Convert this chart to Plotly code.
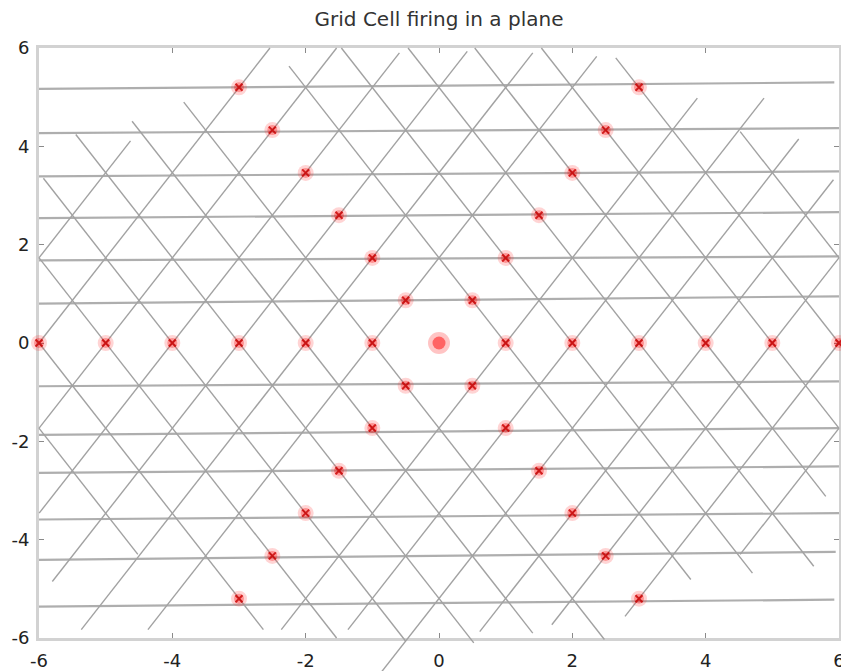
import math
import plotly.graph_objects as go

TITLE = "Grid Cell firing in a plane"
TICKS = [-6, -4, -2, 0, 2, 4, 6]
TICK_TEXT = ["-6", "-4", "-2", "0", "2", "4", "6"]

# firing fields along the three lattice axes
fire_x = [-6, -5, -4, -3, -2, -1, 1, 2, 3, 4, 5, 6,
          0.5, 1.0, 1.5, 2.0, 2.5, 3.0,
          -0.5, -1.0, -1.5, -2.0, -2.5, -3.0,
          -0.5, -1.0, -1.5, -2.0, -2.5, -3.0,
          0.5, 1.0, 1.5, 2.0, 2.5, 3.0]
fire_y = [0, 0, 0, 0, 0, 0, 0, 0, 0, 0, 0, 0,
          0.87, 1.73, 2.60, 3.46, 4.33, 5.20,
          0.87, 1.73, 2.60, 3.46, 4.33, 5.20,
          -0.87, -1.73, -2.60, -3.46, -4.33, -5.20,
          -0.87, -1.73, -2.60, -3.46, -4.33, -5.20]
origin_x = [0]
origin_y = [0]

# near-horizontal lattice lines: height at the left and right ends
flat_y_left = [5.17, 4.27, 3.39, 2.54, 1.68, 0.80, -0.88, -1.87, -2.64, -3.59, -4.41, -5.36]
flat_y_right = [5.30, 4.37, 3.49, 2.66, 1.76, 0.95, -0.78, -1.73, -2.51, -3.46, -4.25, -5.22]
flat_x_left = [-6, -6, -6, -6, -6, -6, -6, -6, -6, -6, -6, -6]
flat_x_right = [5.93, 6, 6, 6, 6, 6, 6, 6, 6, 6, 5.95, 5.93]

# rising lines x = c + y/sqrt(3): intercept c and their y extent
rise_c = [-7, -6, -5, -4, -3, -2, -1, 1, 2, 3, 4, 5, 6, 7]
rise_y0 = [1.73, 0.0, -1.73, -3.46, -4.85, -5.83, -5.83, -5.83, -5.83, -6.75, -5.87, -5.73, -5.56, -4.3]
rise_y1 = [4.11, 6.0, 6.0, 5.9, 5.93, 5.9, 5.83, 4.98, 4.98, 4.15, 3.32, 1.73, 0.0, -1.73]

# falling lines x = c - y/sqrt(3)
fall_c = [-7, -6, -5, -4, -3, -2, -1, 1, 2, 3, 4, 5, 6, 7]
fall_y0 = [-4.3, -5.83, -6.0, -6.06, -6.1, -5.9, -6.03, -4.81, -4.68, -4.54, -3.12, -1.73, 0.0, 1.73]
fall_y1 = [-1.73, 0.0, 1.73, 3.35, 4.24, 4.51, 4.9, 5.63, 6.0, 6.0, 6.0, 6.0, 5.8, 4.3]

S3 = math.sqrt(3.0)


def polyline(c_list, y0_list, y1_list, sign):
    xs, ys = [], []
    for c, a, b in zip(c_list, y0_list, y1_list):
        xs += [c + sign * a / S3, c + sign * b / S3, None]
        ys += [a, b, None]
    return xs, ys


W, H = 841, 671
PL, PR, PT, PB = 39, 839, 48, 638          # plot box in pixels
ux = (PR - PL) / 12.0
uy = (PB - PT) / 12.0
full_x = [-6 - PL / ux, 6 + (W - PR) / ux]
full_y = [-6 - (H - PB) / uy, 6 + PT / uy]

fig = go.Figure()

# flat lines live on the framed axes (they stay inside the box)
fx, fy = [], []
for xl, xr, yl, yr in zip(flat_x_left, flat_x_right, flat_y_left, flat_y_right):
    fx += [xl, xr, None]
    fy += [yl, yr, None]
fig.add_trace(go.Scatter(x=fx, y=fy, mode="lines",
                         line=dict(color="rgba(160,160,160,0.85)", width=2.2),
                         hoverinfo="skip", showlegend=False))

# slanted lines and firing fields on an unclipped overlay with the same scale
rx, ry = polyline(rise_c, rise_y0, rise_y1, 1)
fig.add_trace(go.Scatter(x=rx, y=ry, mode="lines", xaxis="x2", yaxis="y2",
                         line=dict(color="#a2a2a2", width=1.4),
                         hoverinfo="skip", showlegend=False))
gx, gy = polyline(fall_c, fall_y0, fall_y1, -1)
fig.add_trace(go.Scatter(x=gx, y=gy, mode="lines", xaxis="x2", yaxis="y2",
                         line=dict(color="#a2a2a2", width=1.4),
                         hoverinfo="skip", showlegend=False))

fig.add_trace(go.Scatter(x=fire_x, y=fire_y, mode="markers", xaxis="x2", yaxis="y2",
                         marker=dict(size=16, color="rgba(255,40,40,0.20)", line=dict(width=0)),
                         hoverinfo="skip", showlegend=False))
fig.add_trace(go.Scatter(x=fire_x, y=fire_y, mode="markers", xaxis="x2", yaxis="y2",
                         marker=dict(size=10, color="rgba(255,0,0,0.30)", line=dict(width=0)),
                         hoverinfo="skip", showlegend=False))
fig.add_trace(go.Scatter(x=fire_x, y=fire_y, mode="markers", xaxis="x2", yaxis="y2",
                         marker=dict(symbol="x-thin", size=7, line=dict(color="rgba(200,0,0,0.8)", width=2)),
                         showlegend=False))
fig.add_trace(go.Scatter(x=origin_x, y=origin_y, mode="markers", xaxis="x2", yaxis="y2",
                         marker=dict(size=22, color="rgba(255,60,60,0.30)", line=dict(width=0)),
                         hoverinfo="skip", showlegend=False))
fig.add_trace(go.Scatter(x=origin_x, y=origin_y, mode="markers", xaxis="x2", yaxis="y2",
                         marker=dict(size=13, color="rgba(255,20,20,0.55)", line=dict(width=0)),
                         showlegend=False))

tick_font = dict(family="DejaVu Sans, Liberation Sans, sans-serif", size=18, color="#222222")
axis_common = dict(
    range=[-6, 6], tickvals=TICKS, ticktext=TICK_TEXT, ticks="inside", ticklen=5,
    tickcolor="#8a8a8a", tickwidth=1, showline=True, linecolor="#d2d2d2", linewidth=3,
    mirror="ticks", showgrid=False, zeroline=False, fixedrange=True, tickfont=tick_font,
    automargin=False, ticklabeloverflow="allow",
)

fig.update_layout(
    width=W, height=H,
    margin=dict(l=0, r=0, t=0, b=0, autoexpand=False),
    paper_bgcolor="white", plot_bgcolor="rgba(0,0,0,0)",
    title=dict(text=TITLE, x=(PL + PR) / 2 / W, xanchor="center", y=1 - 19 / H,
               yanchor="middle", yref="container", automargin=False,
               font=dict(family="DejaVu Sans, Liberation Sans, sans-serif", size=20, color="#333333")),
    xaxis=dict(domain=[PL / W, PR / W], anchor="y", ticklabelstandoff=4, **axis_common),
    yaxis=dict(domain=[(H - PB) / H, (H - PT) / H], anchor="x", ticklabelstandoff=3, **axis_common),
    xaxis2=dict(domain=[0, 1], range=full_x, anchor="y2", visible=False, fixedrange=True,
                automargin=False),
    yaxis2=dict(domain=[0, 1], range=full_y, anchor="x2", visible=False, fixedrange=True,
                automargin=False),
)

fig.write_html("out.html")
